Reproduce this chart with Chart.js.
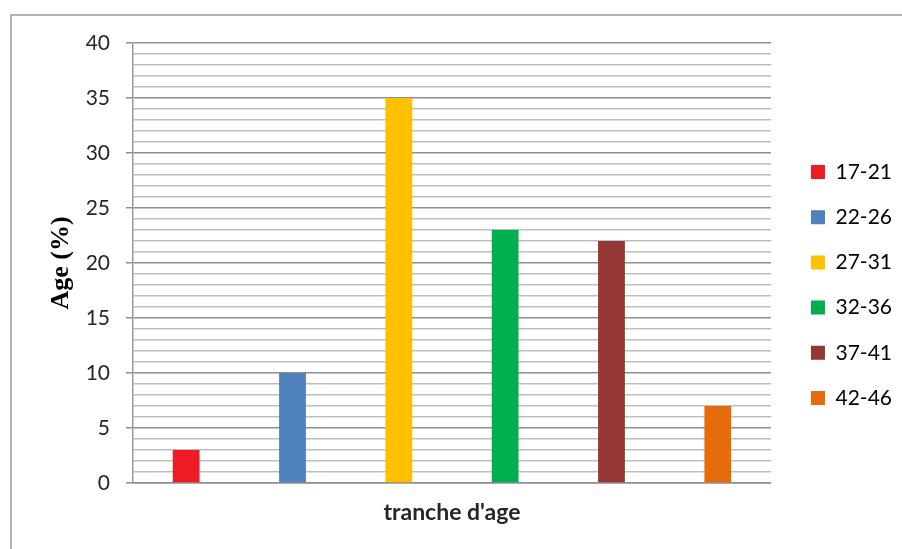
<!DOCTYPE html>
<html>
<head>
<meta charset="utf-8">
<script src="https://cdn.jsdelivr.net/npm/chart.js@4.4.1/dist/chart.umd.min.js"></script>
<style>
  html, body { margin: 0; padding: 0; background: #ffffff; }
  #wrap { position: relative; width: 902px; height: 549px; }
</style>
</head>
<body>
<div id="wrap"><canvas id="chart" width="902" height="549"></canvas></div>
<script>
// Age groups and their share (%)
const categories = ['17-21', '22-26', '27-31', '32-36', '37-41', '42-46'];
const percentages = [3, 10, 35, 23, 22, 7];
const barColors = ['#ED1C24', '#4F81BD', '#FFC000', '#00B050', '#953735', '#E46C0A'];
const yTicks = [0, 5, 10, 15, 20, 25, 30, 35, 40];

const majorGrid = '#8e8e8e';
const minorGrid = '#bdbdbd';

// thin frame along the top and left edges of the picture
const framePlugin = {
  id: 'frame',
  beforeDraw(chart) {
    const ctx = chart.ctx;
    ctx.save();
    ctx.fillStyle = '#ffffff';
    ctx.fillRect(0, 0, chart.width, chart.height);
    ctx.strokeStyle = '#9a9a9a';
    ctx.lineWidth = 1.5;
    ctx.beginPath();
    ctx.moveTo(chart.width, 15);
    ctx.lineTo(11, 15);
    ctx.lineTo(11, chart.height);
    ctx.stroke();
    ctx.restore();
  }
};

// empty spacer scales used only to reserve room around the plot
const spacer = size => ({
  display: true,
  grid: { display: false },
  ticks: { display: false },
  border: { display: false },
  afterFit(scale) {
    if (scale.isHorizontal()) scale.height = size; else scale.width = size;
  }
});

new Chart(document.getElementById('chart'), {
  type: 'bar',
  data: {
    labels: categories,
    datasets: [{
      data: percentages,
      backgroundColor: barColors,
      borderWidth: 0,
      categoryPercentage: 1,
      barPercentage: 0.252
    }]
  },
  options: {
    responsive: false,
    animation: false,
    layout: { padding: { top: 21, left: 0, right: 0, bottom: 0 } },
    plugins: {
      tooltip: { enabled: false },
      legend: {
        position: 'right',
        labels: {
          boxWidth: 14,
          boxHeight: 14,
          padding: 24.2,
          color: '#262626',
          font: { family: 'Lato', size: 21, lineHeight: 1.2 },
          generateLabels() {
            return categories.map((c, i) => ({
              text: c,
              fillStyle: barColors[i],
              strokeStyle: barColors[i],
              lineWidth: 0,
              hidden: false,
              index: i
            }));
          }
        },
        onClick() {}
      }
    },
    scales: {
      x: {
        grid: { display: false },
        ticks: { display: false },
        border: { display: true, color: majorGrid, width: 1.5 },
        title: {
          display: true,
          text: "tranche d'age",
          color: '#262626',
          font: { family: 'Lato', size: 23, weight: 'bold', lineHeight: 1.2 },
          padding: { top: 0, bottom: 23 }
        },
        afterFit(scale) { scale.height = 66; }
      },
      y: {
        min: 0,
        max: 40,
        ticks: {
          stepSize: 1,
          autoSkip: false,
          padding: 16,
          color: '#262626',
          font: { family: 'Lato', size: 21 },
          callback: v => (yTicks.includes(v) ? String(v) : '')
        },
        grid: {
          lineWidth: 1.5,
          tickLength: 7,
          color: c => (c.tick && c.tick.value % 5 === 0 ? majorGrid : minorGrid),
          tickColor: c => (c.tick && c.tick.value % 5 === 0 ? majorGrid : 'rgba(0,0,0,0)')
        },
        border: { display: true, color: '#9a9a9a', width: 1.5 },
        title: {
          display: true,
          text: 'Age (%)',
          color: '#000000',
          font: { family: 'Liberation Serif', size: 26, weight: 'bold', lineHeight: 1.2 },
          padding: { top: 46, bottom: 0 }
        },
        afterFit(scale) { scale.width = 133; }
      },
      gapRight: Object.assign({ position: 'right' }, spacer(15.8)),
      gapTop: Object.assign({ position: 'top', type: 'category' }, spacer(22))
    }
  },
  plugins: [framePlugin]
});
</script>
</body>
</html>
